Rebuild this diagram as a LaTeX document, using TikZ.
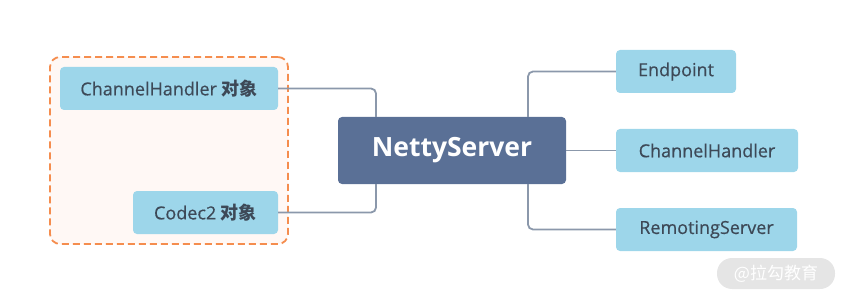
\documentclass[tikz,border=0pt]{standalone}
\usepackage{fontspec}
\setmainfont{Open Sans}
\newfontfamily\leaffont{Open Sans}[FakeBold=0.5]
\newfontfamily\cjk{Noto Sans CJK SC}
\usetikzlibrary{positioning}

\definecolor{boxblue}{HTML}{9DD6EA}
\definecolor{mainblue}{HTML}{5A7096}
\definecolor{txtgray}{HTML}{3D4957}
\definecolor{linegray}{HTML}{8B98AB}
\definecolor{grporange}{HTML}{F58D4E}
\definecolor{grpfill}{HTML}{FFF8F5}

\begin{document}
\begin{tikzpicture}[
        x=1pt, y=-1pt,
        conn/.style={draw=linegray, line width=1.8pt, rounded corners=5pt},
        leaf/.style={fill=boxblue, rounded corners=4pt, minimum height=43pt,
                     inner sep=0pt, text=txtgray, font=\fontsize{18}{20}\leaffont},
        hub/.style={fill=mainblue, rounded corners=4pt, minimum width=228pt,
                    minimum height=67pt, inner sep=0pt, text=white,
                    font=\fontsize{26.5}{29}\selectfont\bfseries},
        group/.style={draw=grporange, fill=grpfill, line width=1.8pt,
                      dash pattern=on 7pt off 4pt, rounded corners=10pt,
                      minimum width=238pt, minimum height=187pt},
        logobox/.style={fill=black!10, rounded corners=15pt, minimum width=118pt,
                        minimum height=31pt, inner sep=0pt, text=white,
                        font=\fontsize{17}{19}\selectfont}
    ]
        \useasboundingbox (0,0) rectangle (848,302);

        \node[group] (objgroup) at (169,150.5) {};
        \node[leaf, minimum width=218pt] (handlerobj) at (169,88.5) {ChannelHandler {\cjk\bfseries 对象}};
        \node[leaf, minimum width=145pt] (codecobj) at (205.5,212.5) {Codec2 {\cjk\bfseries 对象}};

        \node[hub] (netty) at (452,150.5) {NettyServer};

        \node[leaf, minimum width=120pt] (endpoint) at (676,71.5) {Endpoint};
        \node[leaf, minimum width=182pt] (handler) at (707,150.5) {ChannelHandler};
        \node[leaf, minimum width=181pt] (remoting) at (706.5,229.5) {RemotingServer};

        \draw[conn] (handlerobj.east) -| ([xshift=-76pt]netty.north);
        \draw[conn] (codecobj.east) -| ([xshift=-76pt]netty.south);
        \draw[conn] ([xshift=76pt]netty.north) |- (endpoint.west);
        \draw[conn] (netty.east) -- (handler.west);
        \draw[conn] ([xshift=76pt]netty.south) |- (remoting.west);

        \node[logobox] (logo) at (776,273.5) {{\cjk @拉勾教育}};
    \end{tikzpicture}
\end{document}
